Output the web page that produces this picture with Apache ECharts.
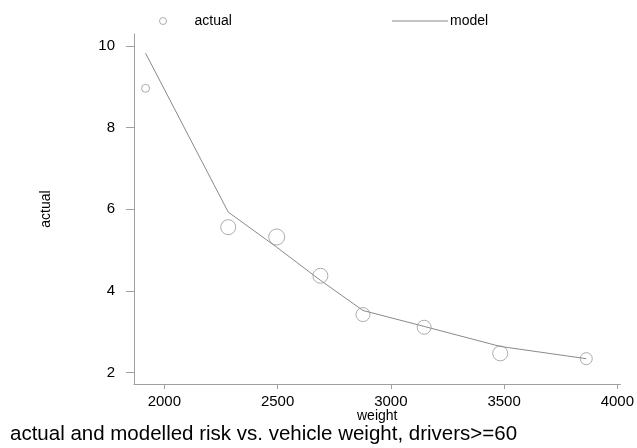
<!DOCTYPE html>
<html>
<head>
<meta charset="utf-8">
<script src="https://cdn.jsdelivr.net/npm/echarts@6/dist/echarts.min.js"></script>
<style>html,body{margin:0;padding:0;background:#fff}#c{width:637px;height:448px}</style>
</head>
<body>
<div id="c"></div>
<script>
var weightVals = [1917, 2282, 2496, 2689, 2877, 3147, 3483, 3863];
var actualVals = [8.96, 5.56, 5.32, 4.37, 3.42, 3.11, 2.47, 2.34];
var modelVals  = [9.82, 5.93, 5.07, 4.26, 3.52, 3.13, 2.64, 2.34];
var pointWeight = [8, 15, 16, 15, 14, 14, 15, 12];
var xTicks = [2000, 2500, 3000, 3500, 4000];
var yTicks = [2, 4, 6, 8, 10];

var FONT = '"Liberation Sans", Arial, sans-serif';
var axisGray = '#a0a0a0';

var chart = echarts.init(document.getElementById('c'), null, {renderer: 'canvas'});
chart.setOption({
  animation: false,
  backgroundColor: '#fff',
  textStyle: {fontFamily: FONT},
  title: {
    text: 'actual and modelled risk vs. vehicle weight, drivers>=60',
    left: 5, bottom: -2,
    textStyle: {fontFamily: FONT, fontSize: 20.5, fontWeight: 'normal', color: '#000'}
  },
  legend: [{
    data: [{name: 'actual', icon: 'circle', itemStyle: {color: 'rgba(0,0,0,0)', borderColor: '#999', borderWidth: 1}}],
    left: 154, top: 9, itemWidth: 7, itemHeight: 7,
    textStyle: {fontFamily: FONT, fontSize: 14, color: '#000', padding: [0, 0, 0, 23]}
  }, {
    data: [{name: 'model', icon: 'rect', itemStyle: {color: '#8a8a8a'}}],
    left: 387, top: 9, itemWidth: 56, itemHeight: 1, itemGap: 0,
    textStyle: {fontFamily: FONT, fontSize: 14, color: '#000', padding: [0, 0, 0, -3]}
  }],
  grid: {left: 134, right: 0, top: 34, bottom: 64, containLabel: false},
  xAxis: {
    type: 'value', min: 1866, max: 4014,
    name: 'weight', nameLocation: 'middle', nameGap: 25, nameMoveOverlap: false,
    nameTextStyle: {fontFamily: FONT, fontSize: 14, color: '#000'},
    axisLine: {show: true, lineStyle: {color: axisGray, width: 1}},
    axisTick: {show: true, length: 5, customValues: xTicks, lineStyle: {color: axisGray}},
    axisLabel: {customValues: xTicks, margin: 10, fontFamily: FONT, fontSize: 15, color: '#000',
      formatter: function (v) { return String(v); }},
    splitLine: {show: false}
  },
  yAxis: {
    type: 'value', min: 1.72, max: 10.29,
    name: 'actual', nameLocation: 'middle', nameGap: 81, nameRotate: 90, nameMoveOverlap: false,
    nameTextStyle: {fontFamily: FONT, fontSize: 14, color: '#000'},
    axisLine: {show: true, lineStyle: {color: axisGray, width: 1}},
    axisTick: {show: true, length: 8, customValues: yTicks, lineStyle: {color: axisGray}},
    axisLabel: {customValues: yTicks, margin: 19, fontFamily: FONT, fontSize: 15, color: '#000',
      formatter: function (v) { return String(v); }},
    splitLine: {show: false}
  },
  series: [{
    name: 'actual', type: 'scatter',
    data: weightVals.map(function (w, i) { return [w, actualVals[i], pointWeight[i]]; }),
    symbol: 'circle',
    symbolSize: function (v) { return v[2]; },
    itemStyle: {color: 'rgba(0,0,0,0)', borderColor: '#999', borderWidth: 1},
    z: 3
  }, {
    name: 'model', type: 'line',
    data: weightVals.map(function (w, i) { return [w, modelVals[i]]; }),
    symbol: 'none', showSymbol: false,
    lineStyle: {color: '#8a8a8a', width: 1},
    itemStyle: {color: '#8a8a8a'},
    z: 2
  }]
});
</script>
</body>
</html>
